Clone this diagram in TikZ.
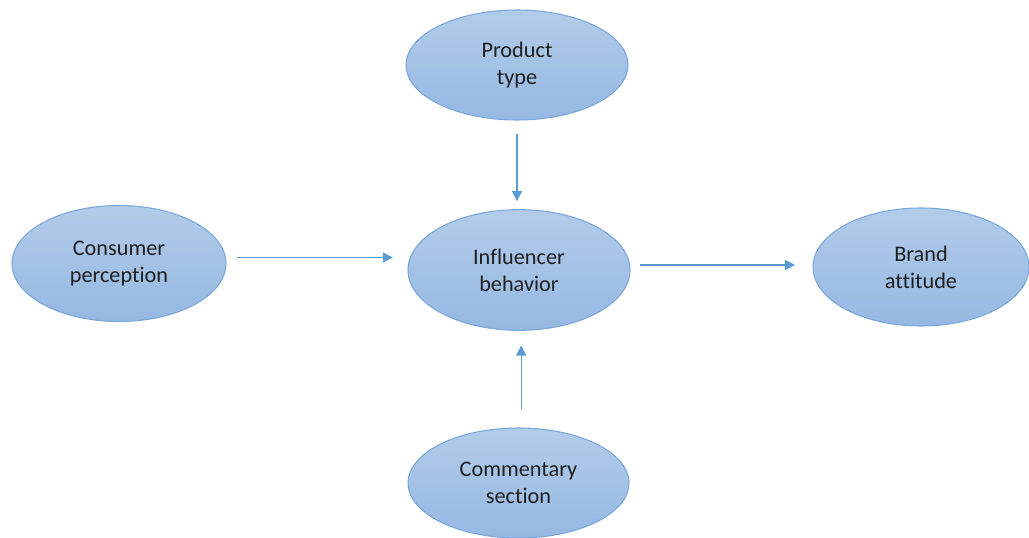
\documentclass[tikz,border=0pt]{standalone}
\usepackage{fontspec}
\setmainfont[Ligatures=NoCommon]{Carlito}
\usetikzlibrary{shapes.geometric,arrows.meta}
\definecolor{elltop}{HTML}{B2CCEA}
\definecolor{ellbot}{HTML}{95B8E2}
\definecolor{ellline}{HTML}{7AA7DB}
\definecolor{arrcol}{HTML}{5B9BD5}
\tikzset{
  bubble/.style={ellipse, draw=ellline, line width=0.8pt, top color=elltop, bottom color=ellbot,
    align=center, inner sep=0pt, font=\fontsize{16.7}{20.25}\selectfont, text=black!88},
  arr/.style={draw=arrcol, line width=1pt, -{Triangle[length=7.5pt,width=7.5pt]}}
}
\begin{document}
\begin{tikzpicture}[x=0.75pt,y=-0.75pt]
\useasboundingbox (0,0) rectangle (1029,538);
\node[bubble, minimum width=166.5pt, minimum height=82.5pt] (p) at (517,65) {Product\\type};
\node[bubble, minimum width=160.5pt, minimum height=87pt] (c) at (119,263.5) {Consumer\\perception};
\node[bubble, minimum width=166.5pt, minimum height=90.5pt] (i) at (519,270) {Influencer\\behavior};
\node[bubble, minimum width=162pt, minimum height=88.5pt] (b) at (921,267) {Brand\\attitude};
\node[bubble, minimum width=165.75pt, minimum height=82.5pt] (m) at (518.5,483) {Commentary\\section};
\draw[arr, shorten <=9.75pt, shorten >=6pt] (p.south) -- (p.south |- i.north);
\draw[arr, shorten <=7.5pt, shorten >=11pt] ([yshift=4.5pt]c.east) -- ([yshift=4.5pt]c.east -| i.west);
\draw[arr, shorten <=7pt, shorten >=13pt] ([yshift=3.75pt]i.east) -- ([yshift=3.75pt]i.east -| b.west);
\draw[arr, shorten <=13.5pt, shorten >=11pt] ([xshift=2pt]m.north) -- ([xshift=2pt]m.north |- i.south);
\end{tikzpicture}
\end{document}
